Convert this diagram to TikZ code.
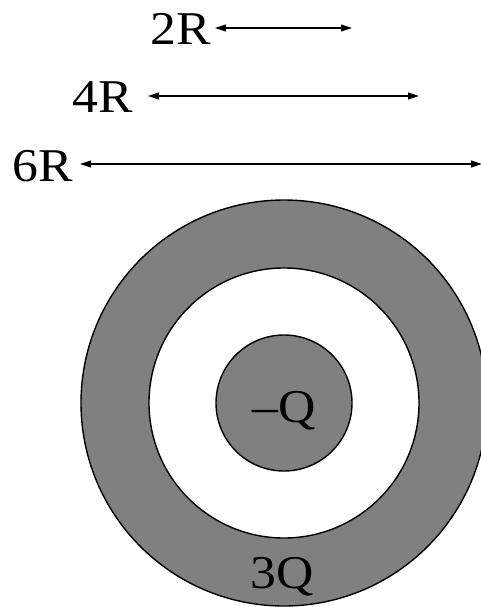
\documentclass[tikz,border=0pt]{standalone}
\usepackage{fontspec}
\setmainfont{Liberation Serif}
\newfontfamily\widefont[FakeStretch=1.1]{Liberation Serif}
\usetikzlibrary{arrows.meta}
\definecolor{shell}{gray}{0.5}
\tikzset{
  lbl/.style={inner sep=0pt, anchor=base east, font=\widefont\fontsize{47}{47}\selectfont},
  qlbl/.style={inner sep=0pt, font=\widefont\fontsize{47}{47}\selectfont},
  dimarrow/.style={line width=1.1pt, {Triangle[length=11pt,width=7pt]}-{Triangle[length=11pt,width=7pt]}},
  ring/.style={line width=1.4pt, draw=black}
}
\begin{document}
\begin{tikzpicture}[x=1pt,y=-1pt]
\useasboundingbox (0,0) rectangle (481,607);
% circles
\fill[shell, ring] (284,403) circle (203);
\fill[white, ring] (284,403) circle (135);
\fill[shell, ring] (284,403) circle (68);
% labels
\node[lbl] (t2) at (211,45) {2R};
\node[lbl] (t4) at (133,113) {4R};
\node[lbl] (t6) at (73,181) {6R};
\node[qlbl, anchor=base] (qin) at (284,422) {–Q};
\node[qlbl, anchor=base] (qout) at (282,588) {3Q};
% arrows
\coordinate (a2l) at (215,28);
\coordinate (a2r) at (352,28);
\coordinate (a4l) at (148,96);
\coordinate (a4r) at (419,96);
\coordinate (a6l) at (80,164);
\coordinate (a6r) at (482,164);
\draw[dimarrow] (a2l) -- (a2r);
\draw[dimarrow] (a4l) -- (a4r);
\draw[dimarrow] (a6l) -- (a6r);
\end{tikzpicture}
\end{document}
